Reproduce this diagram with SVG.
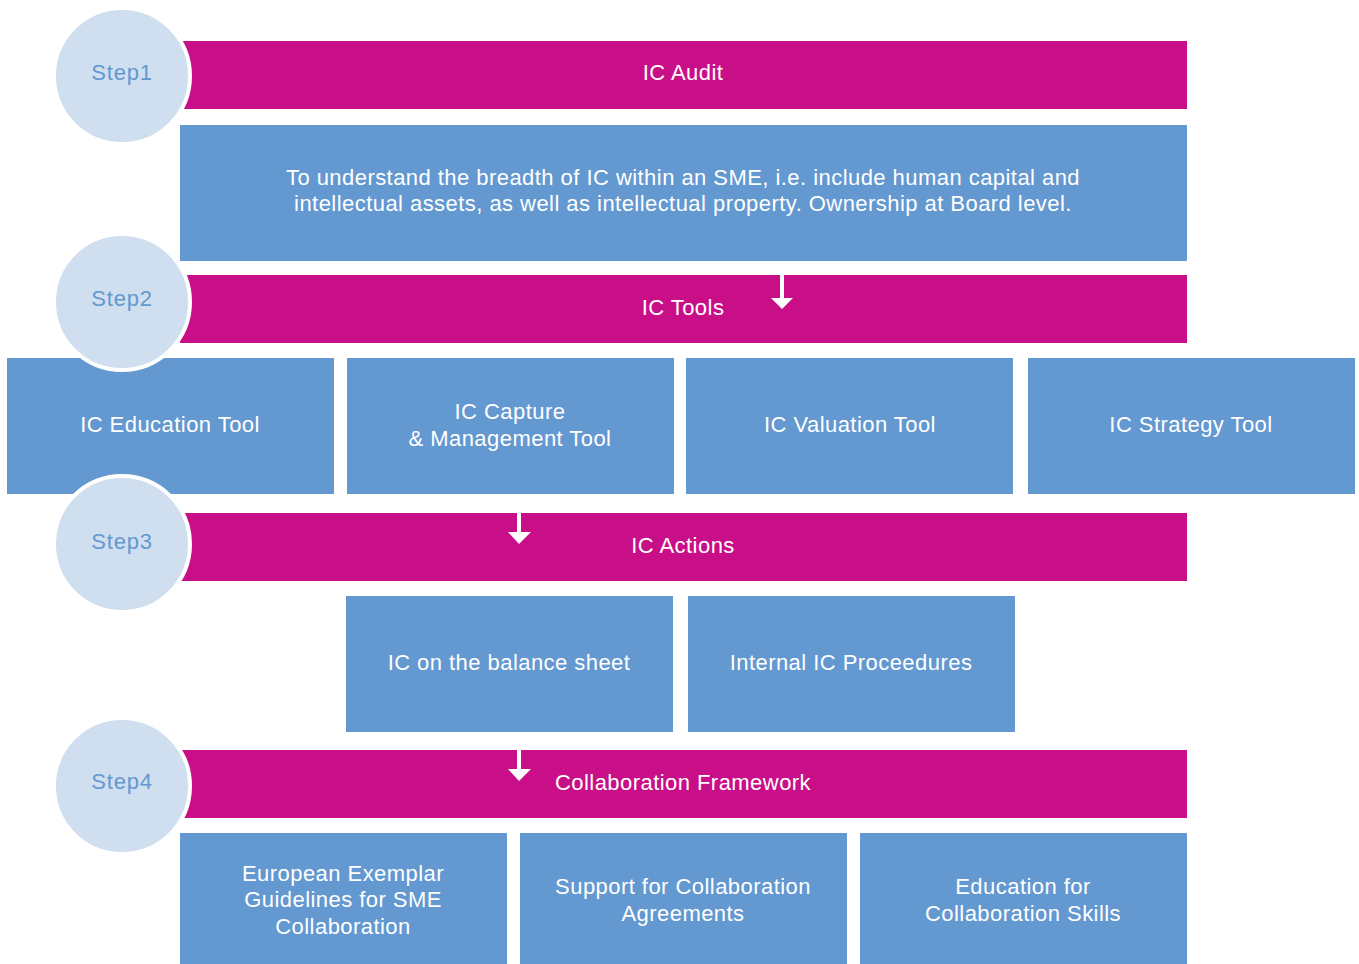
<svg xmlns="http://www.w3.org/2000/svg" width="1359" height="964" viewBox="0 0 1359 964">
  <style>
    .bar { fill: #C90F87; }
    .box { fill: #6398D0; }
    .step { fill: #CFDFEF; stroke: #FFFFFF; stroke-width: 4; }
    text { font-family: "Liberation Sans", Arial, sans-serif; font-size: 22px; letter-spacing: 0.45px; fill: #FFFFFF; text-anchor: middle; }
    .steplabel { fill: #6398D0; font-size: 22px; letter-spacing: 0.8px; }
    .arrow { stroke: #FFFFFF; stroke-width: 4; fill: none; }
    .head { fill: #FFFFFF; }
  </style>
  <rect width="1359" height="964" fill="#FFFFFF"/>

  <!-- Step 1 -->
  <g id="ic-audit">
    <rect class="bar" x="180" y="41" width="1007" height="68"/>
    <text x="683" y="80">IC Audit</text>
  </g>
  <g id="audit-desc">
    <rect class="box" x="180" y="125" width="1007" height="136"/>
    <text x="683" y="185">To understand the breadth of IC within an SME, i.e. include human capital and</text>
    <text x="683" y="211">intellectual assets, as well as intellectual property. Ownership at Board level.</text>
  </g>

  <!-- Step 2 -->
  <g id="ic-tools">
    <rect class="bar" x="180" y="275" width="1007" height="68"/>
    <text x="683" y="315">IC Tools</text>
  </g>
  <g id="education-tool">
    <rect class="box" x="7" y="358" width="327" height="136"/>
    <text x="170" y="432">IC Education Tool</text>
  </g>
  <g id="capture-tool">
    <rect class="box" x="347" y="358" width="327" height="136"/>
    <text x="510" y="419">IC Capture</text>
    <text x="510" y="446">&amp; Management Tool</text>
  </g>
  <g id="valuation-tool">
    <rect class="box" x="686" y="358" width="327" height="136"/>
    <text x="850" y="432">IC Valuation Tool</text>
  </g>
  <g id="strategy-tool">
    <rect class="box" x="1028" y="358" width="327" height="136"/>
    <text x="1191" y="432">IC Strategy Tool</text>
  </g>

  <!-- Step 3 -->
  <g id="ic-actions">
    <rect class="bar" x="180" y="513" width="1007" height="68"/>
    <text x="683" y="553">IC Actions</text>
  </g>
  <g id="balance-sheet">
    <rect class="box" x="346" y="596" width="327" height="136"/>
    <text x="509" y="670">IC on the balance sheet</text>
  </g>
  <g id="internal-procedures">
    <rect class="box" x="688" y="596" width="327" height="136"/>
    <text x="851" y="670">Internal IC Proceedures</text>
  </g>

  <!-- Step 4 -->
  <g id="collaboration-framework">
    <rect class="bar" x="180" y="750" width="1007" height="68"/>
    <text x="683" y="790">Collaboration Framework</text>
  </g>
  <g id="exemplar-guidelines">
    <rect class="box" x="180" y="833" width="327" height="131"/>
    <text x="343" y="881">European Exemplar</text>
    <text x="343" y="907">Guidelines for SME</text>
    <text x="343" y="934">Collaboration</text>
  </g>
  <g id="collaboration-agreements">
    <rect class="box" x="520" y="833" width="327" height="131"/>
    <text x="683" y="894">Support for Collaboration</text>
    <text x="683" y="921">Agreements</text>
  </g>
  <g id="collaboration-skills">
    <rect class="box" x="860" y="833" width="327" height="131"/>
    <text x="1023" y="894">Education for</text>
    <text x="1023" y="921">Collaboration Skills</text>
  </g>

  <!-- Step markers -->
  <g id="step1">
    <circle class="step" cx="122" cy="76" r="68"/>
    <text class="steplabel" x="122" y="80">Step1</text>
  </g>
  <g id="step2">
    <circle class="step" cx="122" cy="302" r="68"/>
    <text class="steplabel" x="122" y="306">Step2</text>
  </g>
  <g id="step3">
    <circle class="step" cx="122" cy="544" r="68"/>
    <text class="steplabel" x="122" y="549">Step3</text>
  </g>
  <g id="step4">
    <circle class="step" cx="122" cy="786" r="68"/>
    <text class="steplabel" x="122" y="789">Step4</text>
  </g>

  <!-- Connectors -->
  <g id="connectors">
    <line class="arrow" x1="782" y1="275" x2="782" y2="299"/>
    <polygon class="head" points="771,298 793,298 782,309"/>
    <line class="arrow" x1="519" y1="513" x2="519" y2="533"/>
    <polygon class="head" points="508,532 531,532 519,544"/>
    <line class="arrow" x1="519" y1="750" x2="519" y2="770"/>
    <polygon class="head" points="508,769 531,769 519,781"/>
  </g>
</svg>
